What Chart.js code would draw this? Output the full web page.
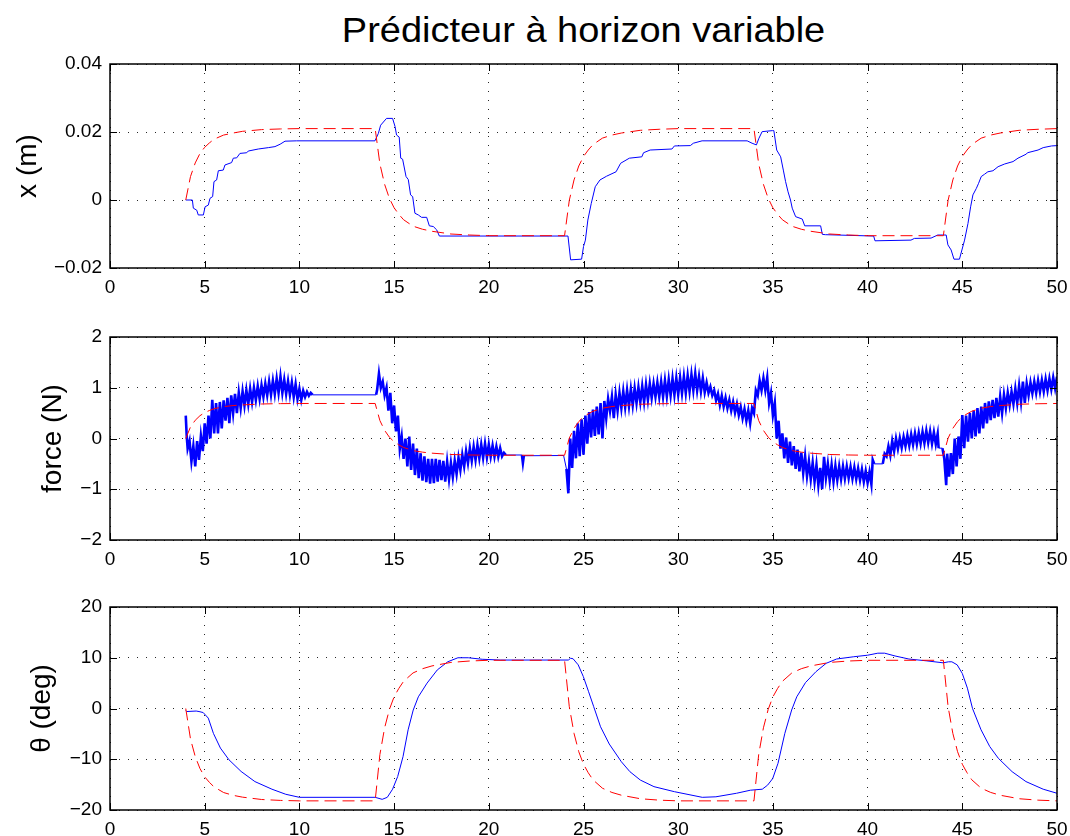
<!DOCTYPE html>
<html><head><meta charset="utf-8">
<script src="https://cdn.jsdelivr.net/npm/chart.js@4.4.1/dist/chart.umd.min.js"></script>
<style>
html,body{margin:0;padding:0;background:#fff;width:1070px;height:836px;overflow:hidden}
#title{position:absolute;left:110px;top:12px;width:947px;text-align:center;font-family:"Liberation Sans",Arial,Helvetica,sans-serif;font-size:35px;line-height:36px;color:#000;transform:scaleX(1.085);transform-origin:center}
canvas{position:absolute;left:0}
</style></head><body>
<div id="title">Prédicteur à horizon variable</div>
<canvas id="c1" width="1070" height="300" style="top:0px"></canvas>
<canvas id="c2" width="1070" height="267" style="top:305px"></canvas>
<canvas id="c3" width="1070" height="261" style="top:575px"></canvas>
<script>
// ---------- tick labels ----------
const xTickVals = [0,5,10,15,20,25,30,35,40,45,50];
const xTickLabels = ['0','5','10','15','20','25','30','35','40','45','50'];
const y1Vals = [-0.02,0,0.02,0.04];
const y1Labels = ['\u22120.02','0','0.02','0.04'];
const y2Vals = [-2,-1,0,1,2];
const y2Labels = ['\u22122','\u22121','0','1','2'];
const y3Vals = [-20,-10,0,10,20];
const y3Labels = ['\u221220','\u221210','0','10','20'];

// ---------- reference (red dashed) series ----------
const refT = [4.0,4.25,4.5,4.75,5.0,5.25,5.5,6.0,6.5,7.0,8.0,9.0,10.0,
  14.0,14.25,14.5,14.75,15.0,15.25,15.5,16.0,16.5,17.0,18.0,19.0,20.0,
  24.0,24.25,24.5,24.75,25.0,25.25,25.5,26.0,26.5,27.0,28.0,29.0,30.0,
  34.0,34.25,34.5,34.75,35.0,35.25,35.5,36.0,36.5,37.0,38.0,39.0,40.0,
  44.0,44.25,44.5,44.75,45.0,45.25,45.5,46.0,46.5,47.0,48.0,49.0,50.0];
const xRef = [0,0.0069,0.0109,0.0137,0.0155,0.0168,0.0179,0.0191,0.0197,0.0202,0.0207,0.0209,0.021,
  0.021,0.0106,0.0046,0.0005,-0.0023,-0.0042,-0.0058,-0.0077,-0.0086,-0.0092,-0.0100,-0.0103,-0.0105,
  -0.0105,-0.0001,0.0059,0.0100,0.0128,0.0147,0.0163,0.0182,0.0191,0.0197,0.0205,0.0208,0.021,
  0.021,0.0106,0.0046,0.0005,-0.0023,-0.0042,-0.0058,-0.0077,-0.0086,-0.0092,-0.0100,-0.0103,-0.0105,
  -0.0105,-0.0001,0.0059,0.0100,0.0128,0.0147,0.0163,0.0182,0.0191,0.0197,0.0205,0.0208,0.021];
const forceRef = [0,0.228,0.359,0.449,0.511,0.552,0.587,0.628,0.649,0.662,0.680,0.687,0.69,
  0.69,0.353,0.160,0.027,-0.065,-0.126,-0.177,-0.238,-0.269,-0.289,-0.315,-0.325,-0.33,
  -0.33,0.007,0.200,0.333,0.425,0.486,0.537,0.598,0.629,0.649,0.675,0.685,0.69,
  0.69,0.353,0.160,0.027,-0.065,-0.126,-0.177,-0.238,-0.269,-0.289,-0.315,-0.325,-0.33,
  -0.33,0.007,0.200,0.333,0.425,0.486,0.537,0.598,0.629,0.649,0.675,0.685,0.69];
const thetaRef = [0,-6.01,-9.46,-11.83,-13.47,-14.56,-15.47,-16.56,-17.11,-17.47,-17.93,-18.11,-18.2,
  -18.2,-9.06,-3.80,-0.20,2.30,3.96,5.35,7.01,7.84,8.39,9.08,9.36,9.5,
  9.5,0.36,-4.90,-8.51,-10.98,-12.66,-14.05,-15.71,-16.54,-17.09,-17.78,-18.06,-18.2,
  -18.2,-9.06,-3.80,-0.20,2.30,3.96,5.35,7.01,7.84,8.39,9.08,9.36,9.5,
  9.5,0.36,-4.90,-8.51,-10.98,-12.66,-14.05,-15.71,-16.54,-17.09,-17.78,-18.06,-18.2];

// ---------- measured (blue) series: [time, value] ----------
const xBlue = [[4.0,0],[4.35,0],[4.4,-0.0024],[4.58,-0.003],[4.66,-0.0044],[4.93,-0.0044],[5.02,-0.002],[5.19,-0.0015],[5.28,0.0005],[5.42,0.001],[5.49,0.0054],[5.63,0.0059],[5.72,0.0086],[5.98,0.0088],[6.07,0.0103],[6.42,0.011],[6.51,0.0123],[6.69,0.0124],[6.86,0.0137],[7.22,0.0139],[7.3,0.0144],[7.83,0.015],[8.36,0.0154],[8.71,0.0157],[8.98,0.0164],[9.24,0.0173],[9.86,0.0174],[13.99,0.0174],[14.17,0.0196],[14.29,0.022],[14.6,0.024],[14.92,0.024],[15.05,0.0216],[15.13,0.0191],[15.27,0.0185],[15.35,0.0123],[15.45,0.012],[15.63,0.0069],[15.75,0.006],[15.87,0.0015],[15.98,0.001],[16.1,-0.0039],[16.28,-0.0044],[16.45,-0.0051],[16.72,-0.0051],[16.86,-0.0076],[17.07,-0.0078],[17.25,-0.0088],[17.39,-0.0106],[24.18,-0.0106],[24.32,-0.0176],[24.9,-0.0174],[25.0,-0.0137],[25.1,-0.0118],[25.23,-0.0059],[25.41,-0.001],[25.62,0.0039],[25.87,0.0059],[26.22,0.007],[26.72,0.0083],[26.96,0.0108],[27.42,0.0123],[28.08,0.0127],[28.17,0.0139],[28.52,0.0147],[29.67,0.015],[29.8,0.0159],[30.64,0.016],[30.8,0.0167],[31.26,0.0174],[33.64,0.0174],[33.9,0.0167],[34.13,0.0162],[34.25,0.018],[34.43,0.0201],[34.97,0.0204],[35.05,0.0204],[35.2,0.0147],[35.41,0.0127],[35.55,0.0088],[35.67,0.0054],[35.8,0.0024],[35.93,0],[36.02,-0.0024],[36.2,-0.0049],[36.55,-0.0056],[36.68,-0.0076],[37.52,-0.0076],[37.61,-0.0101],[37.77,-0.0102],[40.32,-0.0106],[40.39,-0.012],[42.29,-0.0118],[42.47,-0.0113],[43.35,-0.0112],[43.7,-0.0103],[44.15,-0.0103],[44.24,-0.0132],[44.41,-0.0147],[44.56,-0.0174],[44.85,-0.0174],[44.98,-0.0147],[45.12,-0.0118],[45.3,-0.0069],[45.44,-0.002],[45.56,0.0015],[45.74,0.0034],[45.86,0.0049],[46.0,0.0069],[46.18,0.0076],[46.35,0.0083],[46.62,0.0086],[46.89,0.0098],[47.24,0.0106],[47.68,0.0113],[47.94,0.0123],[48.38,0.0135],[48.44,0.0139],[49.0,0.0147],[49.27,0.0154],[49.71,0.0159],[50.0,0.016]];

const forceBlue = [[4.0,0.45],[4.05,0.05],[4.1,-0.2],[4.2,-0.05],[4.3,-0.45],[4.4,-0.15],[4.5,-0.55],[4.6,-0.05],[4.7,-0.42],[4.8,0.05],[4.9,-0.25],[5.0,0.3],[5.1,-0.1],[5.2,0.45],[5.3,0.0],[5.4,0.76],[5.5,0.1],[5.6,0.7],[5.7,0.1],[5.8,0.72],[5.9,0.2],[6.0,0.75],[6.1,0.35],[6.2,0.8],[6.3,0.3],[6.4,0.85],[6.5,0.5],[6.6,0.88],[6.7,0.5],[6.8,0.9],[6.9,0.6],[7.0,0.93],[7.1,0.65],[7.2,0.95],[7.3,0.68],[7.4,0.98],[7.5,0.72],[7.6,1.0],[7.7,0.76],[7.8,1.03],[7.9,0.78],[8.0,1.05],[8.1,0.82],[8.2,1.08],[8.3,0.85],[8.4,1.12],[8.5,0.86],[8.6,1.14],[8.7,0.88],[8.8,1.18],[8.9,0.9],[9.0,1.22],[9.1,0.9],[9.2,1.16],[9.3,0.88],[9.4,1.13],[9.5,0.86],[9.6,1.1],[9.7,0.82],[9.8,1.07],[9.9,0.78],[10.0,0.98],[10.1,0.76],[10.2,0.94],[10.3,0.82],[10.4,0.92],[10.5,0.84],[10.6,0.9],[10.7,0.86],[14.05,0.86],
[14.1,0.95],[14.2,1.28],[14.3,1.0],[14.4,1.12],[14.5,0.85],[14.6,1.0],[14.7,0.55],[14.8,0.9],[14.9,0.3],[15.0,0.65],[15.1,0.14],[15.2,0.45],[15.3,-0.2],[15.4,0.04],[15.5,-0.4],[15.6,0.0],[15.7,-0.55],[15.8,0.04],[15.9,-0.62],[16.0,-0.1],[16.1,-0.72],[16.2,-0.2],[16.3,-0.78],[16.4,-0.29],[16.5,-0.83],[16.6,-0.35],[16.7,-0.86],[16.8,-0.4],[16.9,-0.89],[17.0,-0.4],[17.1,-0.88],[17.2,-0.4],[17.3,-0.85],[17.4,-0.42],[17.5,-0.82],[17.6,-0.44],[17.7,-0.85],[17.8,-0.46],[17.9,-0.8],[18.0,-0.48],[18.1,-0.76],[18.2,-0.44],[18.3,-0.7],[18.4,-0.38],[18.5,-0.62],[18.6,-0.32],[18.7,-0.55],[18.8,-0.25],[18.9,-0.48],[19.0,-0.19],[19.1,-0.44],[19.2,-0.16],[19.3,-0.42],[19.4,-0.13],[19.5,-0.39],[19.6,-0.12],[19.7,-0.38],[19.8,-0.1],[19.9,-0.37],[20.0,-0.12],[20.1,-0.36],[20.2,-0.14],[20.3,-0.36],[20.4,-0.16],[20.5,-0.36],[20.6,-0.19],[20.7,-0.35],[20.8,-0.28],[20.9,-0.325],[21.75,-0.325],[21.8,-0.48],[21.85,-0.34],[23.95,-0.335],[24.1,-0.6],[24.2,-1.08],
[24.3,0.0],[24.4,-0.58],[24.5,0.15],[24.6,-0.39],[24.7,0.3],[24.8,-0.35],[24.9,0.38],[25.0,-0.32],[25.1,0.45],[25.2,-0.1],[25.3,0.52],[25.4,0.02],[25.5,0.57],[25.6,0.05],[25.7,0.63],[25.8,0.08],[25.9,0.7],[26.0,0.0],[26.1,0.74],[26.2,0.4],[26.3,0.78],[26.4,0.54],[26.5,0.82],[26.6,0.4],[26.7,0.86],[26.8,0.55],[26.9,0.9],[27.0,0.6],[27.1,0.93],[27.2,0.62],[27.3,0.95],[27.4,0.64],[27.5,0.97],[27.6,0.66],[27.7,0.99],[27.8,0.7],[27.9,1.01],[28.0,0.72],[28.1,1.03],[28.2,0.72],[28.3,1.06],[28.4,0.76],[28.5,1.08],[28.6,0.8],[28.7,1.08],[28.8,0.82],[28.9,1.1],[29.0,0.82],[29.1,1.12],[29.2,0.82],[29.3,1.14],[29.4,0.83],[29.5,1.16],[29.6,0.85],[29.7,1.18],[29.8,0.86],[29.9,1.19],[30.0,0.87],[30.1,1.2],[30.2,0.89],[30.3,1.22],[30.4,0.9],[30.5,1.24],[30.6,0.93],[30.7,1.26],[30.8,0.95],[30.9,1.28],[31.0,0.95],[31.1,1.22],[31.2,0.93],[31.3,1.19],[31.4,0.91],[31.5,1.1],[31.6,0.9],[31.7,1.02],[31.8,0.85],[31.9,0.95],[32.0,0.75],[32.1,0.88],[32.2,0.66],[32.3,0.84],[32.4,0.63],[32.5,0.8],[32.6,0.6],[32.7,0.76],[32.8,0.55],[32.9,0.72],[33.0,0.51],[33.1,0.68],[33.2,0.46],[33.3,0.62],[33.4,0.4],[33.5,0.58],[33.6,0.35],[33.7,0.55],[33.8,0.3],[33.9,0.6],[34.0,0.5],[34.1,0.95],[34.2,0.85],[34.3,1.14],[34.4,0.95],[34.5,1.19],[34.6,0.95],[34.7,1.2],[34.8,0.7],[34.9,0.9],[35.0,0.46],[35.1,0.7],[35.2,0.0],[35.3,0.35],[35.4,-0.2],[35.5,0.1],[35.6,-0.39],[35.7,0.02],[35.8,-0.48],[35.9,-0.06],[36.0,-0.53],[36.1,-0.15],[36.2,-0.6],[36.3,-0.22],[36.4,-0.65],[36.5,-0.28],[36.6,-0.68],[36.7,-0.35],[36.8,-0.74],[36.9,-0.45],[37.0,-0.8],[37.1,-0.48],[37.2,-0.85],[37.3,-0.52],[37.4,-0.92],[37.5,-0.58],[37.6,-1.0],[37.7,-0.36],[37.8,-0.78],[37.9,-0.5],[38.0,-0.83],[38.1,-0.52],[38.2,-0.85],[38.3,-0.54],[38.4,-0.82],[38.5,-0.55],[38.6,-0.8],[38.7,-0.55],[38.8,-0.79],[38.9,-0.55],[39.0,-0.78],[39.1,-0.56],[39.2,-0.79],[39.3,-0.57],[39.4,-0.8],[39.5,-0.59],[39.6,-0.82],[39.7,-0.61],[39.8,-0.85],[39.9,-0.64],[40.0,-0.87],[40.1,-0.66],[40.2,-0.9],[40.27,-0.42],[40.35,-0.5],[40.8,-0.5],
[40.9,-0.3],[41.0,-0.35],[41.1,-0.15],[41.2,-0.33],[41.3,-0.05],[41.4,-0.25],[41.5,0.0],[41.6,-0.2],[41.7,0.01],[41.8,-0.18],[41.9,0.03],[42.0,-0.15],[42.1,0.06],[42.2,-0.14],[42.3,0.08],[42.4,-0.12],[42.5,0.1],[42.6,-0.11],[42.7,0.11],[42.8,-0.1],[42.9,0.13],[43.0,-0.09],[43.1,0.15],[43.2,-0.08],[43.3,0.14],[43.4,-0.1],[43.5,0.12],[43.6,-0.11],[43.7,0.09],[43.75,-0.19],[43.95,-0.19],[44.05,-0.4],[44.15,-0.92],[44.2,-0.3],[44.3,-0.75],[44.4,-0.29],[44.5,-0.7],[44.6,0.0],[44.7,-0.55],[44.8,0.04],[44.9,-0.4],[45.0,0.46],[45.1,-0.19],[45.2,0.45],[45.3,-0.06],[45.4,0.5],[45.5,0.0],[45.6,0.55],[45.7,0.04],[45.8,0.6],[45.9,0.1],[46.0,0.63],[46.1,0.2],[46.2,0.7],[46.3,0.3],[46.4,0.73],[46.5,0.36],[46.6,0.76],[46.7,0.4],[46.8,0.8],[46.9,0.43],[47.0,0.82],[47.1,0.5],[47.2,0.86],[47.3,0.6],[47.4,0.9],[47.5,0.66],[47.6,0.92],[47.7,0.68],[47.8,0.98],[47.9,0.7],[48.0,1.04],[48.1,0.72],[48.2,1.12],[48.3,0.7],[48.4,1.08],[48.5,0.85],[48.6,1.1],[48.7,0.89],[48.8,1.12],[48.9,0.9],[49.0,1.14],[49.1,0.92],[49.2,1.15],[49.3,0.93],[49.4,1.17],[49.5,0.95],[49.6,1.18],[49.7,0.97],[49.8,1.2],[49.9,0.99],[50.0,1.22]];

const thetaBlue = [[4.0,-0.4],[4.05,-0.6],[4.55,-0.5],[4.7,-0.6],[4.92,-0.8],[5.19,-1.9],[5.46,-4.9],[5.83,-7.8],[6.28,-10.1],[6.92,-12.4],[7.65,-14.4],[8.55,-15.9],[9.28,-16.9],[10.0,-17.5],[14.0,-17.5],[14.37,-17.9],[14.64,-17.5],[14.92,-15.9],[15.19,-13.4],[15.47,-9.5],[15.74,-4.2],[16.01,-0.3],[16.28,2.3],[16.74,5.0],[17.28,7.6],[17.83,9.2],[18.37,10.0],[18.92,10.0],[19.65,9.7],[20.6,9.55],[24.2,9.55],[24.32,9.9],[24.45,9.8],[24.72,8.6],[24.99,6.3],[25.27,3.3],[25.54,0.35],[25.9,-3.6],[26.36,-7.0],[27.0,-10.5],[27.45,-12.45],[28.0,-14.1],[28.72,-15.4],[29.81,-16.4],[31.27,-17.5],[31.99,-17.4],[33.08,-16.7],[33.81,-16.1],[34.44,-15.9],[34.72,-15.1],[34.99,-13.8],[35.27,-10.8],[35.63,-4.9],[35.99,-0.3],[36.26,2.3],[36.72,5.1],[37.27,7.25],[37.81,8.9],[38.36,9.75],[39.27,10.2],[40.0,10.5],[40.54,10.9],[40.9,10.9],[41.45,10.35],[42.18,9.75],[43.09,9.4],[43.99,9.0],[44.27,9.2],[44.45,9.2],[44.73,8.6],[45.0,6.9],[45.27,4.0],[45.54,0.0],[45.99,-4.2],[46.45,-7.5],[46.9,-9.8],[47.63,-12.45],[48.36,-14.4],[49.27,-15.9],[50.0,-16.7]];

// ---------- drawing ----------
const FONT = '"Liberation Sans", Arial, Helvetica, sans-serif';
Chart.defaults.font.family = FONT;
Chart.defaults.color = '#000';

const framePlugin = {
  id: 'matlabFrame',
  afterDraw(chart) {
    const {ctx, chartArea: a, scales} = chart;
    const x = scales.x, y = scales.y;
    const L = 7;
    ctx.save();
    ctx.strokeStyle = '#000';
    ctx.lineWidth = 1;
    ctx.beginPath();
    x.ticks.forEach(t => {
      const px = Math.round(x.getPixelForValue(t.value)) + 0.5;
      ctx.moveTo(px, a.bottom); ctx.lineTo(px, a.bottom - L);
      ctx.moveTo(px, a.top); ctx.lineTo(px, a.top + L);
    });
    y.ticks.forEach(t => {
      const py = Math.round(y.getPixelForValue(t.value)) + 0.5;
      ctx.moveTo(a.left, py); ctx.lineTo(a.left + L, py);
      ctx.moveTo(a.right, py); ctx.lineTo(a.right - L, py);
    });
    ctx.stroke();
    ctx.lineWidth = 1.5;
    ctx.strokeRect(a.left, a.top, a.right - a.left, a.bottom - a.top);
    ctx.restore();
  }
};

function pairs(arr) { return arr.map(p => ({x: p[0], y: p[1]})); }
function zipT(t, v) { return t.map((tt, i) => ({x: tt, y: v[i]})); }

function makeChart(id, cfg) {
  const gridCommon = {color: 'rgba(0,0,0,0.85)', lineWidth: 1, drawTicks: false, borderDash: [1, 8]};
  const borderCommon = {display: false, dash: [1, 8]};
  return new Chart(document.getElementById(id), {
    type: 'line',
    data: {
      datasets: [
        {data: zipT(refT, cfg.ref), borderColor: '#ff0000', borderWidth: 1, borderDash: [12, 6], pointRadius: 0, tension: 0, fill: false},
        {data: pairs(cfg.blue), borderColor: '#0000ff', borderWidth: 1, pointRadius: 0, tension: 0, fill: false,
         segment: {borderWidth: c => (cfg.noisy && (c.p1.parsed.x - c.p0.parsed.x) < 0.12) ? 2.6 : 1}}
      ]
    },
    options: {
      responsive: false,
      animation: false,
      events: [],
      layout: {padding: {top: cfg.padTop, right: 13, left: 0, bottom: 0}},
      plugins: {legend: {display: false}, tooltip: {enabled: false}, title: {display: false}},
      scales: {
        x: {
          type: 'linear', min: 0, max: 50,
          afterBuildTicks: s => { s.ticks = xTickVals.map(v => ({value: v})); },
          afterFit: s => { s.height = cfg.xH; s.paddingLeft = 0; s.paddingRight = 0; },
          ticks: {autoSkip: false, maxRotation: 0, padding: 8, color: '#000', font: {size: 19}, callback: (v, i) => xTickLabels[i]},
          grid: gridCommon, border: borderCommon
        },
        y: {
          type: 'linear', min: cfg.yVals[0], max: cfg.yVals[cfg.yVals.length - 1],
          afterBuildTicks: s => { s.ticks = cfg.yVals.map(v => ({value: v})); },
          afterFit: s => { s.width = 110; s.paddingTop = 0; s.paddingBottom = 0; },
          ticks: {autoSkip: false, padding: 8, color: '#000', font: {size: 19}, callback: (v, i) => cfg.yLabels[i]},
          title: {display: true, text: cfg.yTitle, color: '#000', font: {size: 28}, padding: {top: cfg.titlePad, bottom: 0}},
          grid: gridCommon, border: borderCommon
        }
      }
    },
    plugins: [framePlugin]
  });
}

makeChart('c1', {ref: xRef, blue: xBlue, yVals: y1Vals, yLabels: y1Labels, yTitle: 'x (m)', titlePad: 11, padTop: 64, xH: 32, noisy: false});
makeChart('c2', {ref: forceRef, blue: forceBlue, yVals: y2Vals, yLabels: y2Labels, yTitle: 'force (N)', titlePad: 36, padTop: 32, xH: 32, noisy: true});
makeChart('c3', {ref: thetaRef, blue: thetaBlue, yVals: y3Vals, yLabels: y3Labels, yTitle: '\u03b8 (deg)', titlePad: 25, padTop: 32, xH: 26, noisy: false});
</script>
</body></html>
